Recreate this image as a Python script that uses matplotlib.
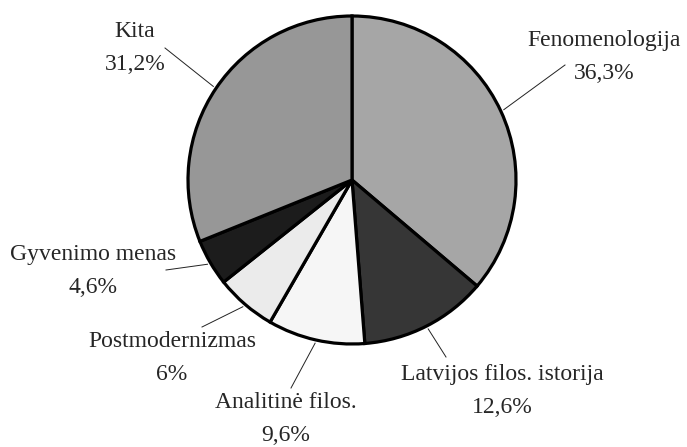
import numpy as np
import matplotlib
matplotlib.use("Agg")
import matplotlib.pyplot as plt

# duomenys
labels = ["Fenomenologija", "Latvijos filos. istorija", "Analitinė filos.",
          "Postmodernizmas", "Gyvenimo menas", "Kita"]
shares = [36.3, 12.6, 9.6, 6.0, 4.6, 31.2]
pct_text = ["36,3%", "12,6%", "9,6%", "6%", "4,6%", "31,2%"]
colors = ["#a6a6a6", "#363636", "#f6f6f6", "#ebebeb", "#1c1c1c", "#979797"]

# teksto ir linijų galų padėtys (pikseliais, y į viršų)
text_xy = [(604, 390), (502, 56), (286, 28), (172, 89), (93, 176), (135, 399)]
line_end = [(565, 382), (446, 90), (291, 59), (202, 120), (166, 177), (165, 399)]

W, H = 687, 447
center = (352, H - 180)
radius = 164

plt.rcParams['font.family'] = ['Liberation Serif', 'DejaVu Serif']

fig = plt.figure(figsize=(W / 100, H / 100), dpi=100)
ax = fig.add_axes([0, 0, 1, 1])

wedges, _ = ax.pie(shares, colors=colors, startangle=90, counterclock=False,
                   center=center, radius=radius, normalize=True,
                   wedgeprops=dict(edgecolor='black', linewidth=2.3))

ax.set_xlim(0, W)
ax.set_ylim(0, H)
ax.set_aspect('equal')
ax.axis('off')

for w, lab, pct, (tx, ty), (ex, ey) in zip(wedges, labels, pct_text, text_xy, line_end):
    ang = np.deg2rad((w.theta1 + w.theta2) / 2)
    sx = center[0] + radius * 1.02 * np.cos(ang)
    sy = center[1] + radius * 1.02 * np.sin(ang)
    ax.plot([sx, ex], [sy, ey], color='#222222', linewidth=0.7)
    ax.text(tx, ty, f"{lab}\n{pct}", ha='center', va='center',
            multialignment='center', fontsize=17, color='#262626',
            linespacing=1.72)

fig.savefig("out.png", dpi=100)
